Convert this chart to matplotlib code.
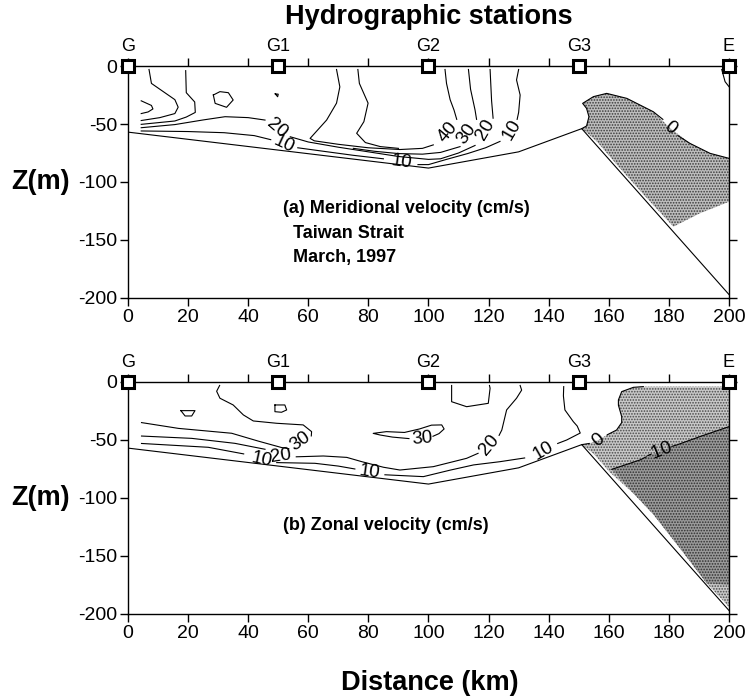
import numpy as np
import matplotlib.pyplot as plt

plt.rcParams['font.family'] = ['Liberation Sans', 'DejaVu Sans']
plt.rcParams['axes.unicode_minus'] = False
plt.rcParams['hatch.linewidth'] = 0.8

# stations along the section (km)
station_names = ['G', 'G1', 'G2', 'G3', 'E']
station_km = [0, 50, 100, 150, 200]

# sea floor along the section
bottom_km = [0, 100, 130, 151, 200]
bottom_z = [-57, -88, -74, -54, -197]

# (a) meridional velocity, contour pieces (km, depth) broken where labels sit
merid_lines = [
    ([7, 7.8, 11.7, 15.6, 16.7, 15.6, 10.6, 4.4], [-3, -15, -22, -29, -35.5, -41, -44.5, -47]),
    ([4.4, 7.8, 8.3, 6.7, 4.4], [-30, -34, -37, -39.6, -41]),
    ([19.2, 19.4, 22.2, 22.4, 19.4, 15.6, 4.4], [-4, -23, -31, -40, -44, -47.4, -50.3]),
    ([28.4, 30.6, 33.4, 35, 32.8, 29, 28.4], [-25, -22.1, -23, -29.3, -35.6, -32.2, -25]),
    ([49, 50, 49.8, 49], [-24, -24.3, -26.5, -24]),
    # 40
    ([69.4, 70.5, 69.4, 66.1, 60.6, 62, 70, 80, 90.5, 98, 101.6],
     [-3, -18, -32, -46.6, -62.4, -64.5, -67.5, -70.5, -72, -71, -68]),
    ([109.4, 108.5, 107.2, 106, 105.5], [-46, -38, -29, -15, -3]),
    ([76.5, 77, 79.9, 78.5, 76.1, 79, 84, 90], [-3, -15, -32, -48, -58, -66, -69.5, -71]),
    # 30
    ([75, 82, 90, 98, 104, 110.5], [-71, -73.5, -75.5, -76, -74.5, -69.5]),
    ([116, 115.5, 114, 113.3], [-46, -38, -20, -3]),
    # 20
    ([4.4, 15.6, 25, 32.3, 40, 45.6], [-53.2, -50.5, -46.5, -43.7, -44.5, -46.6]),
    ([54, 60, 70, 80, 90, 100, 104, 110, 115.5], [-61, -65.5, -70, -74, -78, -80.5, -80, -75, -68.5]),
    ([121.5, 121, 120.5], [-45, -30, -3]),
    # 10
    ([4.4, 20, 32, 42, 47.5], [-56, -56.5, -57.5, -60, -63.5]),
    ([56.5, 65, 75, 85], [-70.5, -73.5, -77, -80]),
    ([96.5, 100, 106, 113, 119, 123.8], [-85, -85, -80.5, -75.5, -70.5, -65]),
    ([129.5, 130, 130.5, 129.3, 130], [-46, -40, -25, -12, -3]),
    # 0 and the small one under E
    ([151, 152.6, 153.4, 152.6, 151.3, 154.9, 159.3, 166, 174.8, 178],
     [-54, -51.7, -43.7, -36.5, -32.2, -26.4, -23.6, -27.9, -39.4, -46]),
    ([183, 187, 193.7, 200], [-60, -66.7, -75.3, -79.6]),
    ([197.6, 198.7, 200], [-3, -13.5, -17.8]),
]
merid_labels = [
    (49.5, -54, '20', -40), (52, -67.5, '10', -25), (91, -82.5, '10', -8),
    (106.3, -57, '40', 50), (112.7, -58.5, '30', 55), (118.8, -55, '20', 60),
    (127.7, -55, '10', 60), (180.4, -53.5, '0', -40),
]
# area of southward flow (negative velocity)
merid_neg_km = [151, 152.6, 153.4, 152.6, 151.3, 154.9, 159.3, 166, 174.8, 180.4, 187, 193.7, 200,
                200, 190.3, 181.5, 172, 163, 156, 152]
merid_neg_z = [-54, -51.7, -43.7, -36.5, -32.2, -26.4, -23.6, -27.9, -39.4, -53.5, -66.7, -75.3, -79.6,
               -117, -127, -138.5, -112, -86, -65, -56]

# (b) zonal velocity
zonal_lines = [
    ([17.6, 22.3, 21.2, 19, 17.6], [-24.7, -24.7, -29.3, -29.3, -24.7]),
    ([48.9, 52.2, 52.8, 51.1, 48.9, 48.9], [-19.8, -19.8, -24.1, -26.1, -25.6, -19.8]),
    ([107.7, 107.7, 112.7, 119.9, 120.5, 120.3], [-3, -17, -21.3, -18.4, -5.4, -3]),
    # 30
    ([4.5, 16.8, 34.5, 43.4, 51.1, 53.5], [-35, -40, -44.2, -51, -56.5, -57.5]),
    ([61, 61.1, 58.3, 49.5, 41.7, 38.4, 35, 30.6, 29.5, 30.5],
     [-46.5, -42.8, -37, -35.6, -33.6, -28.4, -19.8, -14, -8, -3]),
    ([93.5, 88, 83.9, 81.6, 86, 92, 97, 101, 104.4, 105.2, 103.5, 101.5],
     [-48.8, -47.5, -45.7, -44.3, -42.8, -43.5, -40.5, -37.2, -37, -40.5, -44.5, -46.8]),
    # 20
    ([4.5, 21.2, 35.6, 45.6], [-46.6, -48.6, -52.9, -58]),
    ([56, 65, 72.8, 77.8, 85, 90.5, 101.6, 112.7, 116.5],
     [-64.5, -63.8, -65, -68.7, -73.5, -75.9, -73, -65.8, -61.5]),
    ([123.5, 124.4, 126, 129.3, 131, 130.5], [-46, -41.4, -24.1, -14, -7, -3]),
    # 10
    ([4.5, 26.7, 38.5], [-53, -56.3, -62]),
    ([49.5, 62.2, 70, 75.5], [-69.5, -70.1, -72.5, -75]),
    ([85.5, 98.3, 107.2, 115, 123.8, 132], [-80, -81.6, -76, -71.5, -68.7, -65.5]),
    ([143, 146, 150.5, 149.5, 148.2, 145.4, 144.9, 145], [-53, -50, -44, -38, -34.2, -24.1, -12, -4]),
    # 0
    ([151, 153.5], [-54, -53]),
    ([159.5, 162.6, 164.3, 164.3, 163.2, 163.2, 164.3, 168.2, 171.5],
     [-45.5, -41.4, -35, -29.9, -20, -15.5, -8.3, -4.6, -4]),
    # -10
    ([161, 166, 170.4, 172.5], [-75.3, -71, -67.2, -64.5]),
    ([181, 182.6, 190.3, 200], [-55.5, -54.3, -47.1, -38.5]),
]
zonal_labels = [
    (57.5, -51.5, '30', 35), (44.5, -67, '10', -12), (51, -63.5, '20', 8),
    (80.5, -77.5, '10', -8), (97.8, -48.5, '30', 5), (120.3, -54, '20', 50),
    (138.3, -59, '10', 30), (156.5, -50, '0', 40), (176.8, -60, '-10', 22),
]
# westward flow, and the core below -10 cm/s
zonal_neg_km = [151, 153.5, 156.5, 159.5, 162.6, 164.3, 164.3, 163.2, 163.2, 164.3, 168.2, 171.5, 200,
                200, 192.6, 184.8, 174.8, 168.2, 160.4, 155]
zonal_neg_z = [-54, -53, -50, -45.5, -41.4, -35, -29.9, -20, -15.5, -8.3, -4.6, -4, -4,
               -194, -173.6, -147, -114, -96, -78, -62]
zonal_core_km = [161, 166, 170.4, 176.8, 182.6, 190.3, 200, 200, 192.6, 184.8, 174.8, 168.2]
zonal_core_z = [-75.3, -71, -67.2, -60, -54.3, -47.1, -38.5, -175, -173.6, -147, -114, -96]

xticks = np.arange(0, 201, 20)
yticks = [0, -50, -100, -150, -200]


def draw_section(ax, lines, labels, shades):
    """One velocity section: shading, contours, sea floor, stations"""
    for xs, zs, face, dots, dotcol in shades:
        ax.fill(xs, zs, facecolor=face, edgecolor=dotcol, hatch=dots, linewidth=0, zorder=1)
    for xs, zs in lines:
        ax.plot(xs, zs, color='black', linewidth=0.8, zorder=3)
    for x, z, txt, rot in labels:
        ax.text(x, z, txt, fontsize=13.5, rotation=rot, ha='center', va='center',
                rotation_mode='anchor', zorder=4)
    ax.plot(bottom_km, bottom_z, color='black', linewidth=0.8, zorder=3)

    ax.set_xlim(0, 200)
    ax.set_ylim(-200, 0)
    ax.set_xticks(xticks)
    ax.set_yticks(yticks)
    ax.tick_params(direction='out', length=6, width=1, labelsize=14, pad=2,
                   top=True, right=True, labeltop=False, labelright=False)
    for sp in ax.spines.values():
        sp.set_linewidth(1)

    ax.plot(station_km, [0] * len(station_km), 's', markersize=8, markerfacecolor='white',
            markeredgecolor='black', markeredgewidth=2.2, clip_on=False, zorder=6)
    for name, km in zip(station_names, station_km):
        ax.annotate(name, (km, 0), xytext=(0, 8), textcoords='offset points',
                    ha='center', va='bottom', fontsize=13, annotation_clip=False)
    ax.text(-0.145, 0.5, 'Z(m)', transform=ax.transAxes, fontsize=19.5, fontweight='bold',
            ha='center', va='center')


fig = plt.figure(figsize=(7.45, 7.0), dpi=100)
ax1 = fig.add_axes([0.1718, 0.5743, 0.8067, 0.3314])
ax2 = fig.add_axes([0.1718, 0.1229, 0.8067, 0.3314])

draw_section(ax1, merid_lines, merid_labels,
             [(merid_neg_km, merid_neg_z, '#bdbdbd', '......', '#3a3a3a')])
ax1.text(51.6, -123, '(a) Meridional velocity (cm/s)', fontsize=13, fontweight='bold', va='center')
ax1.text(55, -144, 'Taiwan Strait', fontsize=13, fontweight='bold', va='center')
ax1.text(55, -165, 'March, 1997', fontsize=13, fontweight='bold', va='center')

draw_section(ax2, zonal_lines, zonal_labels,
             [(zonal_neg_km, zonal_neg_z, '#c8c8c8', '......', '#4a4a4a'),
              (zonal_core_km, zonal_core_z, '#9a9a9a', '......', '#303030')])
ax2.text(51.6, -124, '(b) Zonal velocity (cm/s)', fontsize=13, fontweight='bold', va='center')

fig.text(0.576, 0.975, 'Hydrographic stations', fontsize=19.5, fontweight='bold',
         ha='center', va='center')
fig.text(0.577, 0.024, 'Distance (km)', fontsize=19.5, fontweight='bold',
         ha='center', va='center')

fig.savefig('out.png', dpi=100)
